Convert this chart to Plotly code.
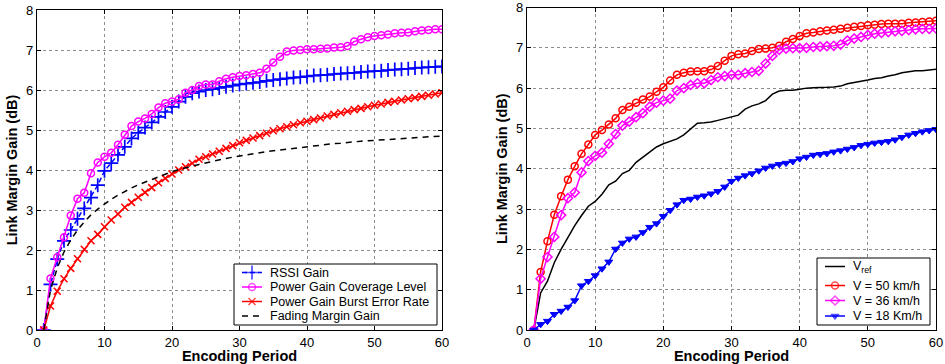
import plotly.graph_objects as go

period = list(range(1, 61))

# Left panel series
rssi_gain = [0, 1.14, 1.77, 2.23, 2.5, 2.78, 3.04, 3.31, 3.62, 3.98,
             4.17, 4.38, 4.58, 4.79, 4.93, 5.06, 5.19, 5.33, 5.45, 5.58,
             5.71, 5.83, 5.92, 5.96, 6.0, 6.02, 6.05, 6.08, 6.11, 6.14,
             6.16, 6.18, 6.2, 6.23, 6.25, 6.27, 6.29, 6.31, 6.32, 6.34,
             6.36, 6.37, 6.38, 6.4, 6.41, 6.42, 6.43, 6.45, 6.46, 6.47,
             6.48, 6.5, 6.51, 6.52, 6.53, 6.55, 6.56, 6.57, 6.58, 6.59]
coverage_gain = [0, 1.29, 1.82, 2.32, 2.86, 3.28, 3.43, 3.92, 4.19, 4.33,
                 4.43, 4.63, 4.88, 5.1, 5.21, 5.29, 5.4, 5.56, 5.67, 5.71,
                 5.77, 5.93, 6.0, 6.1, 6.14, 6.14, 6.22, 6.28, 6.32, 6.35,
                 6.37, 6.4, 6.43, 6.53, 6.69, 6.83, 6.96, 6.99, 7.0, 7.02,
                 7.02, 7.03, 7.04, 7.06, 7.07, 7.1, 7.21, 7.27, 7.32, 7.35,
                 7.37, 7.39, 7.42, 7.43, 7.44, 7.47, 7.49, 7.5, 7.52, 7.52]
burst_gain = [0, 0.6, 0.97, 1.28, 1.54, 1.78, 2.02, 2.23, 2.39, 2.58,
              2.75, 2.9, 3.07, 3.19, 3.32, 3.44, 3.56, 3.68, 3.79, 3.9,
              4.0, 4.08, 4.17, 4.27, 4.33, 4.4, 4.47, 4.54, 4.61, 4.68,
              4.74, 4.8, 4.86, 4.92, 4.98, 5.03, 5.08, 5.13, 5.18, 5.22,
              5.26, 5.3, 5.35, 5.39, 5.43, 5.47, 5.51, 5.54, 5.58, 5.62,
              5.65, 5.69, 5.72, 5.75, 5.78, 5.81, 5.84, 5.87, 5.9, 5.93]
fading_gain = [0, 1.0, 1.55, 1.95, 2.25, 2.5, 2.7, 2.88, 3.02, 3.15,
               3.27, 3.37, 3.47, 3.55, 3.63, 3.7, 3.77, 3.84, 3.9, 3.96,
               4.01, 4.06, 4.1, 4.14, 4.18, 4.22, 4.25, 4.29, 4.32, 4.35,
               4.38, 4.41, 4.43, 4.46, 4.48, 4.5, 4.52, 4.55, 4.57, 4.59,
               4.61, 4.62, 4.64, 4.66, 4.67, 4.69, 4.7, 4.72, 4.73, 4.74,
               4.76, 4.77, 4.78, 4.79, 4.8, 4.81, 4.82, 4.83, 4.84, 4.85]

# Right panel series
v_ref = [0, 0.92, 1.21, 1.67, 2.0, 2.31, 2.59, 2.84, 3.07, 3.19,
         3.37, 3.6, 3.69, 3.88, 3.96, 4.16, 4.29, 4.4, 4.54, 4.62,
         4.68, 4.74, 4.84, 4.98, 5.13, 5.14, 5.16, 5.2, 5.24, 5.28,
         5.33, 5.48, 5.56, 5.61, 5.69, 5.85, 5.93, 5.95, 5.95, 5.97,
         6.0, 6.01, 6.01, 6.02, 6.03, 6.05, 6.11, 6.14, 6.16, 6.2,
         6.24, 6.26, 6.3, 6.33, 6.38, 6.41, 6.43, 6.43, 6.45, 6.47]
v_50 = [0, 1.44, 2.2, 2.86, 3.32, 3.73, 4.06, 4.37, 4.6, 4.84,
        4.96, 5.1, 5.25, 5.46, 5.54, 5.64, 5.72, 5.79, 5.91, 6.02,
        6.19, 6.33, 6.38, 6.41, 6.42, 6.42, 6.46, 6.55, 6.68, 6.8,
        6.84, 6.86, 6.92, 6.97, 6.98, 7.0, 7.05, 7.15, 7.22, 7.29,
        7.36, 7.38, 7.41, 7.43, 7.45, 7.47, 7.5, 7.52, 7.54, 7.56,
        7.57, 7.59, 7.6, 7.6, 7.6, 7.62, 7.63, 7.64, 7.65, 7.67]
v_36 = [0, 1.27, 1.81, 2.31, 2.85, 3.27, 3.41, 3.91, 4.19, 4.32,
        4.4, 4.62, 4.86, 5.07, 5.17, 5.28, 5.38, 5.54, 5.64, 5.69,
        5.74, 5.94, 6.0, 6.08, 6.12, 6.12, 6.2, 6.27, 6.3, 6.33,
        6.33, 6.37, 6.4, 6.43, 6.61, 6.8, 6.95, 6.98, 6.99, 6.99,
        7.0, 7.02, 7.03, 7.04, 7.05, 7.08, 7.18, 7.23, 7.27, 7.32,
        7.35, 7.37, 7.39, 7.41, 7.42, 7.44, 7.46, 7.47, 7.47, 7.48]
v_18 = [0, 0.14, 0.22, 0.39, 0.47, 0.57, 0.73, 1.1, 1.21, 1.35,
        1.52, 1.69, 2.01, 2.16, 2.26, 2.31, 2.42, 2.55, 2.64, 2.82,
        2.97, 3.11, 3.22, 3.25, 3.3, 3.33, 3.38, 3.44, 3.55, 3.69,
        3.77, 3.83, 3.88, 3.95, 4.02, 4.07, 4.11, 4.14, 4.18, 4.25,
        4.29, 4.34, 4.36, 4.38, 4.42, 4.45, 4.49, 4.53, 4.58, 4.61,
        4.64, 4.66, 4.68, 4.72, 4.78, 4.84, 4.88, 4.92, 4.95, 4.98]

x_ticks = [0, 10, 20, 30, 40, 50, 60]
y_ticks = [0, 1, 2, 3, 4, 5, 6, 7, 8]

W, H = 945, 364
FONT = "Liberation Sans, Arial, Helvetica, sans-serif"
BLUE, MAGENTA, RED, BLACK = "#0000ff", "#ff00ff", "#ff0000", "#000000"

# name, values, colour, dash, marker symbol, marker size, filled marker
left_series = [
    ("RSSI Gain", rssi_gain, BLUE, "5px,3px", "cross-thin", 10, False),
    ("Power Gain Coverage Level", coverage_gain, MAGENTA, "solid", "circle-open", 7, False),
    ("Power Gain Burst Error Rate", burst_gain, RED, "solid", "x-thin", 7, False),
    ("Fading Margin Gain", fading_gain, BLACK, "6px,5px", None, 0, False),
]
right_series = [
    ("V<sub>ref</sub>", v_ref, BLACK, "solid", None, 0, False),
    ("V = 50 km/h", v_50, RED, "solid", "circle-open", 7, False),
    ("V = 36 km/h", v_36, MAGENTA, "solid", "diamond-open", 7, False),
    ("V = 18 Km/h", v_18, BLUE, "solid", "triangle-down", 7, True),
]


def marker_style(color, symbol, size, filled):
    if symbol is None:
        return None
    lw = 1.7 if symbol == "cross-thin" else 1.5
    return dict(symbol=symbol, size=size, color=color,
                line=dict(color=color, width=1 if filled else lw))


fig = go.Figure()

for series, xa, ya in ((left_series, "x", "y"), (right_series, "x2", "y2")):
    for name, vals, color, dash, symbol, size, filled in series:
        mk = marker_style(color, symbol, size, filled)
        fig.add_trace(go.Scatter(
            x=period, y=vals, name=name,
            mode="lines+markers" if mk else "lines",
            line=dict(color=color, width=1.5, dash=dash),
            marker=mk, showlegend=False, xaxis=xa, yaxis=ya))

# Boxed legends, drawn on a full-figure pixel overlay (x3/y3)
legend_font = dict(family=FONT, size=12.5, color="black")
annotations = []


def draw_legend(series, box, rows, sample_x, text_x):
    x0, y0, x1, y1 = box
    fig.add_trace(go.Scatter(
        x=[x0, x1, x1, x0, x0], y=[y0, y0, y1, y1, y0], mode="lines",
        fill="toself", fillcolor="white", line=dict(color="black", width=1),
        showlegend=False, hoverinfo="skip", xaxis="x3", yaxis="y3"))
    for (name, vals, color, dash, symbol, size, filled), yr in zip(series, rows):
        mk = marker_style(color, symbol, size, filled)
        xs = [sample_x[0], (sample_x[0] + sample_x[1]) / 2, sample_x[1]]
        if mk:
            mk["size"] = [0, size, 0]
        fig.add_trace(go.Scatter(
            x=xs, y=[yr, yr, yr], mode="lines+markers" if mk else "lines",
            line=dict(color=color, width=1.5, dash=dash), marker=mk,
            showlegend=False, hoverinfo="skip", xaxis="x3", yaxis="y3"))
        annotations.append(dict(x=text_x, y=yr, xref="x3", yref="y3", text=name,
                                showarrow=False, xanchor="left", yanchor="middle",
                                font=legend_font))


draw_legend(left_series, (234, 264, 437, 325),
            [272.5, 287, 301.5, 316], (242, 262), 268)
draw_legend(right_series, (817, 258, 930, 325),
            [266.5, 285.5, 300.5, 316], (825, 845), 851)

# pixel extents of the two plot areas
axis_px = {"x": (37, 442), "y": (330, 10), "x2": (527, 936), "y2": (330, 7.5)}

axis_common = dict(
    showline=True, linecolor="black", linewidth=1.3, mirror="ticks",
    ticks="inside", ticklen=4, tickcolor="black", showgrid=True,
    gridcolor="#8c8c8c", griddash="dot", gridwidth=1, zeroline=False,
    automargin=False,
    tickfont=dict(family=FONT, size=13, color="black"),
)


def dom_x(key):
    a, b = axis_px[key]
    return [a / W, b / W]


def dom_y(key):
    a, b = axis_px[key]
    return [1 - a / H, 1 - b / H]


def xaxis(key, anchor):
    return dict(axis_common, domain=dom_x(key), anchor=anchor, range=[0, 60],
                tickvals=x_ticks, ticktext=[str(v) for v in x_ticks],
                title=dict(text="<b>Encoding Period</b>", standoff=4,
                           font=dict(family=FONT, size=14.5, color="black")))


def yaxis(key, anchor):
    return dict(axis_common, domain=dom_y(key), anchor=anchor, range=[0, 8],
                tickvals=y_ticks, ticktext=[str(v) for v in y_ticks],
                title=dict(text="<b>Link Margin Gain (dB)</b>", standoff=4,
                           font=dict(family=FONT, size=14.5, color="black")))


fig.update_layout(
    width=W, height=H,
    margin=dict(l=0, r=0, t=0, b=0),
    paper_bgcolor="white", plot_bgcolor="rgba(0,0,0,0)",
    showlegend=False,
    xaxis=xaxis("x", "y"),
    yaxis=yaxis("y", "x"),
    xaxis2=xaxis("x2", "y2"),
    yaxis2=yaxis("y2", "x2"),
    xaxis3=dict(domain=[0, 1], anchor="y3", range=[0, W], visible=False,
                fixedrange=True, automargin=False),
    yaxis3=dict(domain=[0, 1], anchor="x3", range=[H, 0], visible=False,
                fixedrange=True, automargin=False),
    annotations=annotations,
)

fig.write_html("out.html")
